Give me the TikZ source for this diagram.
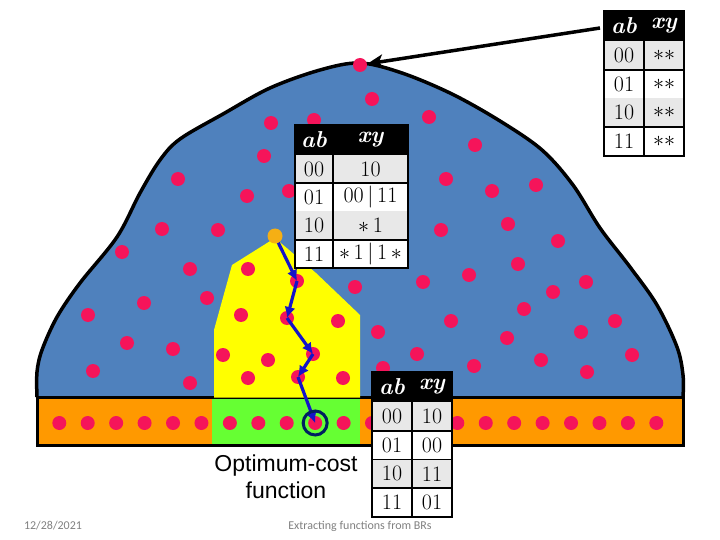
\RequirePackage{fix-cm}
\documentclass[tikz,border=0pt]{standalone}
\usepackage{fontspec}
\newfontfamily\sansf{Liberation Sans}
\newfontfamily\footf{Carlito}
\usetikzlibrary{arrows.meta}
\definecolor{domeblue}{HTML}{4F81BD}
\definecolor{dotred}{RGB}{245,20,90}
\definecolor{bandorange}{HTML}{FF9900}
\definecolor{bandgreen}{HTML}{66FF33}
\definecolor{regyellow}{HTML}{FFFF00}
\definecolor{startorange}{RGB}{245,175,20}
\definecolor{pathblue}{RGB}{20,20,200}
\definecolor{ringnavy}{RGB}{0,32,96}
\definecolor{cellgray}{RGB}{232,232,232}
\definecolor{footgray}{RGB}{128,128,128}

\newcommand\abtab[8]{%
  \pgfmathsetmacro\rh{(#7-#6)/4}
  \fill[white] (#2,#6) rectangle (#4,#7);
  \fill[black] (#2,#5) rectangle (#4,#6);
  \node[hdr] (#1-ab) at ({(#2+#3)/2},{(#5+#6)/2}) {ab};
  \node[hdr] (#1-xy) at ({(#3+#4)/2},{(#5+#6)/2}) {xy};
  \foreach \k/\v [count=\i] in {#8} {
    \pgfmathsetmacro\ya{#6+(\i-1)*\rh}
    \pgfmathsetmacro\yb{#6+\i*\rh}
    \ifodd\i \fill[cellgray] (#2,\ya) rectangle (#4,\yb); \fi
    \node[cell] (#1-\i-k) at ({(#2+#3)/2},{(\ya+\yb)/2}) {\k};
    \node[cell] (#1-\i-v) at ({(#3+#4)/2},{(\ya+\yb)/2}) {\v};
    \draw[tabline] (#2,\yb) -- (#4,\yb);
  }
  \draw[tabline] (#3,#6) -- (#3,#7);
  \draw[tabline] (#2,#5) rectangle (#4,#7);
}

\begin{document}
\begin{tikzpicture}[x=1pt,y=-1pt,
  dot/.style={circle,fill=dotred,inner sep=0pt,minimum size=14pt},
  startdot/.style={circle,fill=startorange,inner sep=0pt,minimum size=15pt},
  outline/.style={line width=3.5pt,line join=round},
  pathline/.style={draw=pathblue,line width=3.2pt,-{Latex[length=11pt,width=11pt]}},
  ring/.style={draw=ringnavy,line width=3pt},
  bigarrow/.style={line width=3.5pt,-{Stealth[length=16pt,width=14pt,inset=4pt]}},
  hdr/.style={text=white,font=\fontsize{23}{23}\selectfont\bfseries\itshape,inner sep=0pt},
  cell/.style={font=\fontsize{22}{22}\selectfont,inner sep=0pt},
  tabline/.style={line width=1.6pt},
  caption/.style={font=\sansf\fontsize{23}{27}\selectfont,align=center},
  foot/.style={font=\footf\fontsize{12}{12}\selectfont,text=footgray}
]
\useasboundingbox (0,0) rectangle (720,540);

\def\domepts{(37,397) (37,372) (42,350) (57,317) (80,283) (117,237) (140,193) (160,160) (180,139) (223,114) (270,88) (320,70) (360,63) (402,73) (452,94) (500,121) (542,150) (573,185) (600,228) (630,267) (657,305) (677,347) (683,375) (683,397)}
% dome
\fill[domeblue] plot[smooth,tension=0.55] coordinates {\domepts} -- cycle;
% band
\fill[bandorange] (37,397) rectangle (683,445);
\draw[line width=3pt] (37,397) rectangle (683,445);
\fill[bandgreen] (212,398.5) rectangle (360,443.5);
\draw[line width=0.8pt] (212,398) -- (360,398);
% yellow region
\fill[regyellow] (275,238) -- (232,265) -- (214,330) -- (214,397.5) -- (360,397.5) -- (360,315) -- (316,273) -- cycle;
% dome outline
\draw[outline] plot[smooth,tension=0.55] coordinates {\domepts};

% dots
\node[dot] (dtop) at (360,65) {};
\foreach \x/\y [count=\n] in {372/99,271/123,314/120,429/117,264/156,475/145,178/179,247/196,289/191,446/179,492/191,536/185,162/229,218/230,441/230,508/224,558/241,122/252,190/269,248/269,355/287,423/282,469/275,518/264,586/282,553/292,88/315,144/303,207/298,241/315,338/321,378/332,451/321,524/309,615/321,127/343,173/349,223/355,268/360,417/354,507/338,581/332,632/355,93/371,190/383,248/378,343/378,383/368,474/366,541/360,587/372}
  \node[dot] (d\n) at (\x,\y) {};
\node[dot] (p1) at (297,281) {};
\node[dot] (p2) at (287,318) {};
\node[dot] (p3) at (313,354) {};
\node[dot] (p4) at (298,377) {};
\foreach \i in {0,...,21}
  \node[dot] (b\i) at ({59.3+28.43*\i},423) {};

% path
\coordinate (ostart) at (275,236);
\draw[pathline] (ostart) -- (p1.center);
\draw[pathline] (p1.center) -- (p2.center);
\draw[pathline] (p2.center) -- (p3.center);
\draw[pathline] (p3.center) -- (p4.center);
\draw[pathline] (p4.center) -- (b9.center);
\draw[ring] (b9.center) circle[radius=12pt];
\node[startdot] (o) at (ostart) {};

% tables
\abtab{tr}{604}{644}{684}{11}{41}{156}{00/{$**$},01/{$**$},10/{$**$},11/{$**$}}
\abtab{mid}{295}{333}{408}{125}{155}{268}{00/10,01/{$00\,|\,11$},10/{$*\,1$},11/{$*\,1\,|\,1\,*$}}
\abtab{bot}{372}{412}{452}{372}{402}{517}{00/10,01/00,10/11,11/01}

% arrow
\coordinate (arrS) at (600,28);
\draw[bigarrow] (arrS) -- (dtop);

% texts
\node[caption] (cap) at (286,477) {Optimum-cost\\function};
\node[foot] (date) at (53,526) {12/28/2021};
\node[foot] (title) at (360,526) {Extracting functions from BRs};
\end{tikzpicture}
\end{document}
